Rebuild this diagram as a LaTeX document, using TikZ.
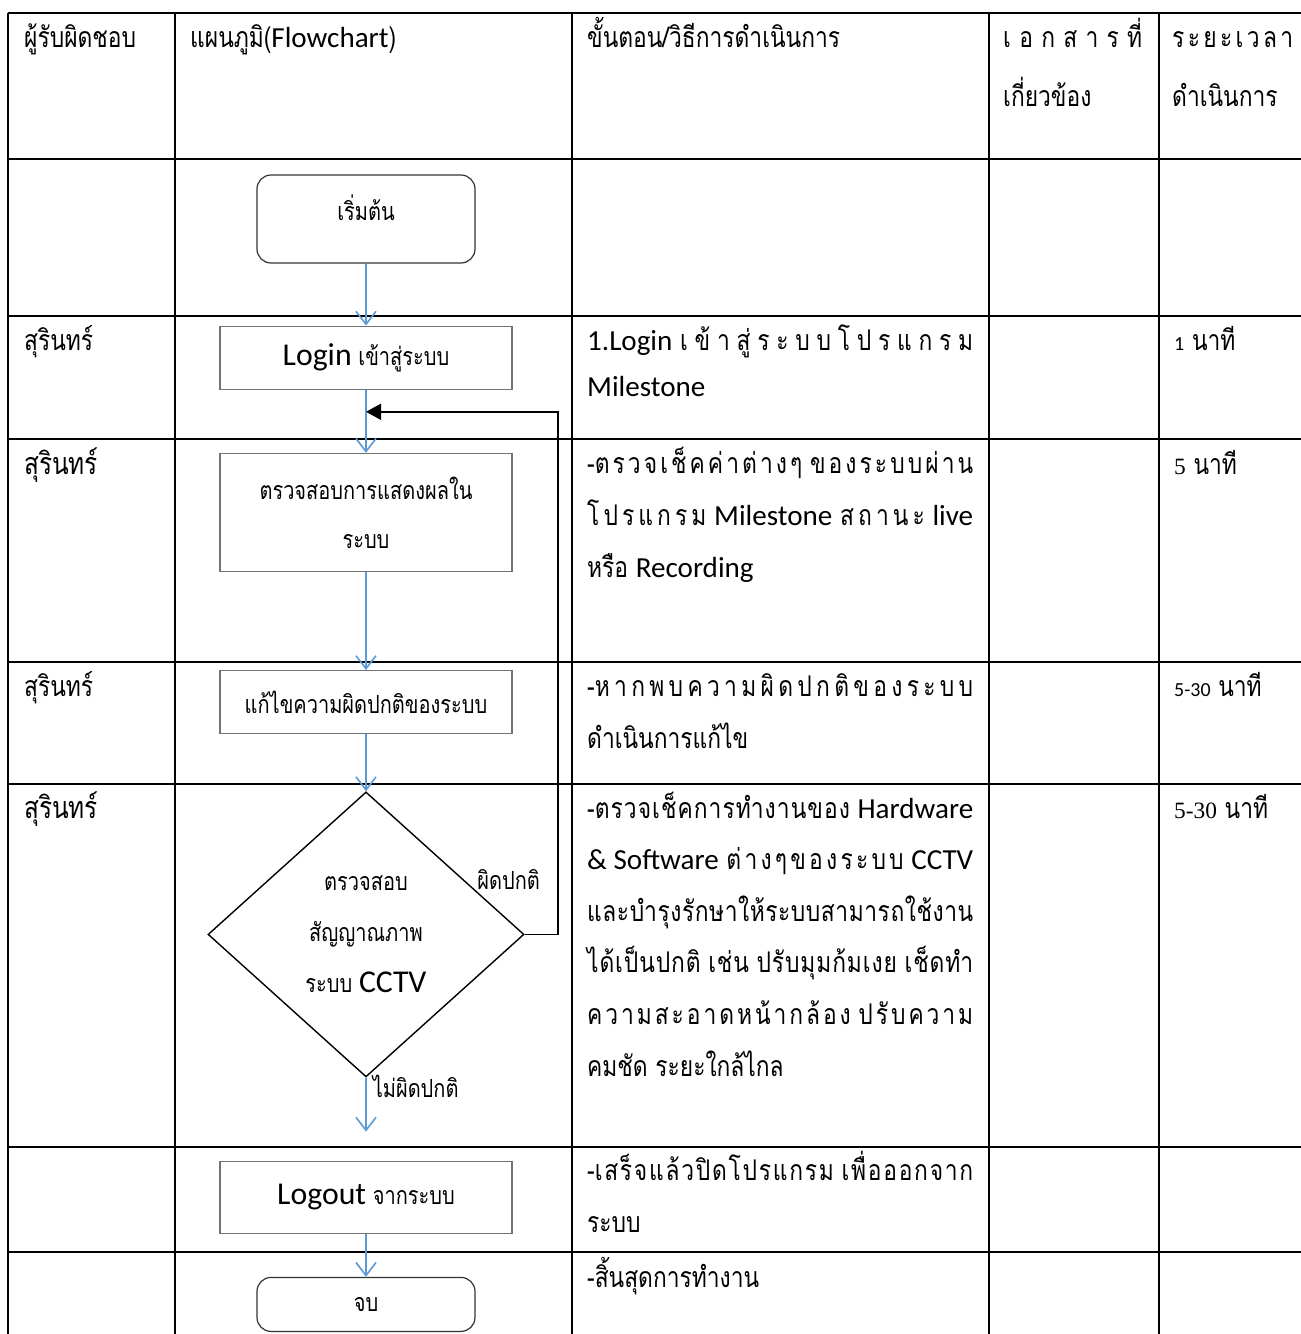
\documentclass[tikz,border=0pt]{standalone}
\usepackage{fontspec}
\setmainfont[Script=Thai,FakeStretch=0.8]{Loma}
\newfontfamily\lat[Scale=1.02]{Carlito}
\newfontfamily\latbig[Scale=1.27]{Carlito}
\newfontfamily\latsm[Scale=0.7]{Carlito}
\newfontfamily\tms[Scale=0.82]{Liberation Serif}
\usepackage{xcolor}
\usetikzlibrary{arrows.meta,positioning,shapes.geometric}
\definecolor{flowblue}{HTML}{5B9BD5}

% Thai letter spreading for justified lines
\newXeTeXintercharclass\thbase
\newXeTeXintercharclass\thmark
\count255="0E01
\loop \XeTeXcharclass\count255=\thbase \advance\count255 by 1 \ifnum\count255<"0E5C \repeat
\XeTeXcharclass"0E31=\thmark
\count255="0E33
\loop \XeTeXcharclass\count255=\thmark \advance\count255 by 1 \ifnum\count255<"0E3B \repeat
\count255="0E47
\loop \XeTeXcharclass\count255=\thmark \advance\count255 by 1 \ifnum\count255<"0E4F \repeat
\XeTeXinterchartoks\thbase\thbase={\hfil}
\XeTeXinterchartoks\thmark\thbase={\hfil}
\newcommand\spreadto[2]{\makebox[#1][s]{\XeTeXinterchartokenstate=1 #2}}
\newcommand\jl[1]{\spreadto{386pt}{#1}}

\begin{document}
\begin{tikzpicture}[
    x=1pt, y=-1pt,
    every node/.style={inner sep=0pt, font=\fontsize{28.5}{51.6}\selectfont},
    cell/.style={anchor=base west, align=left},
    box/.style={draw=black!55, line width=1.2pt, minimum width=292pt, align=center, font=\fontsize{25}{49}\selectfont},
    term/.style={box, draw=black!80, rounded corners=14pt, minimum width=218pt},
    dec/.style={diamond, draw, line width=1.4pt, minimum width=316pt, minimum height=285pt, align=center, font=\fontsize{25}{51}\selectfont},
    lbl/.style={text=black, font=\fontsize{25}{28}\selectfont},
    arr/.style={-{Straight Barb[length=13pt,width=20pt]}, flowblue, line width=1.6pt},
    barr/.style={-{Triangle[length=15pt,width=16pt]}, line width=1.6pt},
    tline/.style={line width=1.6pt},
]
\useasboundingbox (0,0) rectangle (1301,1334);

% Table
\draw[tline] (8,13) -- (1301,13);
\draw[tline] (8,159) -- (1301,159);
\draw[tline] (8,316) -- (1301,316);
\draw[tline] (8,439) -- (1301,439);
\draw[tline] (8,662) -- (1301,662);
\draw[tline] (8,784) -- (1301,784);
\draw[tline] (8,1147) -- (1301,1147);
\draw[tline] (8,1252) -- (1301,1252);
\draw[tline] (8,13) -- (8,1334);
\draw[tline] (175,13) -- (175,1334);
\draw[tline] (572,13) -- (572,1334);
\draw[tline] (989,13) -- (989,1334);
\draw[tline] (1159,13) -- (1159,1334);

% Header
\node (hresp) [cell] at (24,47) {ผู้รับผิดชอบ};
\node (hflow) [cell] at (190,47) {แผนภูมิ({\lat Flowchart})};
\node (hstep) [cell] at (587,47) {ขั้นตอน/วิธีการดำเนินการ};
\node (hdoc) [cell, font=\fontsize{28.5}{59}\selectfont] at (1003,106) {\spreadto{139pt}{เอกสารที่}\\เกี่ยวข้อง};
\node (htime) [cell, font=\fontsize{28.5}{59}\selectfont] at (1172,106) {\spreadto{121pt}{ระยะเวลา}\\ดำเนินการ};

% Responsible
\node (p1) [cell] at (24,350) {สุรินทร์};
\node (p2) [cell, font=\fontsize{30.5}{32}\selectfont] at (24,474) {สุรินทร์};
\node (p3) [cell] at (24,696) {สุรินทร์};
\node (p4) [cell, font=\fontsize{30.5}{32}\selectfont] at (24,818) {สุรินทร์};

% Steps
\node (s1) [cell, font=\fontsize{28.5}{46}\selectfont] at (587,396) {\jl{{\lat 1.Login} เข้าสู่ระบบโปรแกรม}\\{\lat Milestone}};
\node (s2) [cell] at (587,577) {\jl{-ตรวจเช็คค่าต่างๆ ของระบบผ่าน}\\\jl{โปรแกรม {\lat Milestone} สถานะ {\lat live}}\\หรือ {\lat Recording}};
\node (s3) [cell] at (587,748) {\jl{-หากพบความผิดปกติของระบบ}\\ดำเนินการแก้ไข};
\node (s4) [cell] at (587,1076) {\jl{-ตรวจเช็คการทำงานของ {\lat Hardware}}\\\jl{{\lat \& Software} ต่างๆของระบบ {\lat CCTV}}\\\jl{และบำรุงรักษาให้ระบบสามารถใช้งาน}\\\jl{ได้เป็นปกติ เช่น ปรับมุมก้มเงย เช็ดทำ}\\\jl{ความสะอาดหน้ากล้อง ปรับความ}\\คมชัด ระยะใกล้ไกล};
\node (s5) [cell] at (587,1232) {\jl{-เสร็จแล้วปิดโปรแกรม เพื่อออกจาก}\\ระบบ};
\node (s6) [cell] at (587,1287) {-สิ้นสุดการทำงาน};

% Time
\node (t1) [cell] at (1174,350) {{\latsm 1} นาที};
\node (t2) [cell] at (1174,474) {{\tms 5} นาที};
\node (t3) [cell] at (1174,696) {{\latsm 5-30} นาที};
\node (t4) [cell] at (1174,818) {{\tms 5-30} นาที};

% Flowchart
\node (start) [term, minimum height=88pt, text depth=22pt] at (366,219) {เริ่มต้น};
\node (login) [box, minimum height=63pt, below=62pt of start] {{\latbig Login} เข้าสู่ระบบ};
\node (check) [box, minimum height=118pt, below=63pt of login] {ตรวจสอบการแสดงผลใน\\ระบบ};
\node (fix) [box, minimum height=63pt, below=98pt of check] {แก้ไขความผิดปกติของระบบ};
\node (dia) [dec, below=57pt of fix] {ตรวจสอบ\\สัญญาณภาพ\\ระบบ {\latbig CCTV}};
\node (logout) [box, minimum height=72pt, below=83pt of dia] {{\latbig Logout} จากระบบ};
\node (finish) [term, minimum height=54pt, below=43pt of logout] {จบ};
\coordinate (back) at ([yshift=-22pt]login.south);

\draw[arr] (start) -- (login);
\draw[arr] (login) -- (check);
\draw[arr] (check) -- (fix);
\draw[arr] (fix) -- (dia);
\draw[arr, shorten >=29pt] (dia) -- node[lbl, pos=0.1, right=6pt] {ไม่ผิดปกติ} (logout);
\draw[arr] (logout) -- (finish);

% Loop back
\draw[barr] (dia.east) -- node[lbl, pos=0, anchor=south, xshift=-16pt, yshift=44pt] {ผิดปกติ} ++(33,0) |- (back);
\end{tikzpicture}
\end{document}
